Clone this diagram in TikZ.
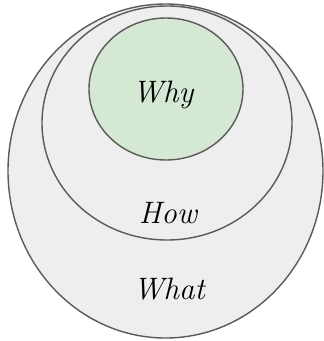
\documentclass[tikz,border=0pt]{standalone}
\begin{document}
\begin{tikzpicture}[x=1pt,y=-1pt,
  ring/.style={draw=ringstroke,line width=1.4pt},
  lbl/.style={font=\fontsize{31}{36}\selectfont\itshape,text=black,inner sep=0pt}]
\definecolor{ringstroke}{HTML}{5A5A5A}
\definecolor{greyfill}{HTML}{EEEEEE}
\definecolor{greenfill}{HTML}{D5E8D4}
\useasboundingbox (0,0) rectangle (324,341);
\fill[white] (0,0) rectangle (324,341);
\draw[ring,fill=greyfill] (165.5,171) ellipse [x radius=157.5, y radius=167];
\draw[ring,fill=greyfill] (167,123) ellipse [x radius=125, y radius=117];
\draw[ring,fill=greenfill] (166,89) ellipse [x radius=77, y radius=71];
\node[lbl] (why) at (163,95) {Why};
\node[lbl] (how) at (168,213) {How};
\node[lbl] (what) at (169,289) {What};
\end{tikzpicture}
\end{document}
